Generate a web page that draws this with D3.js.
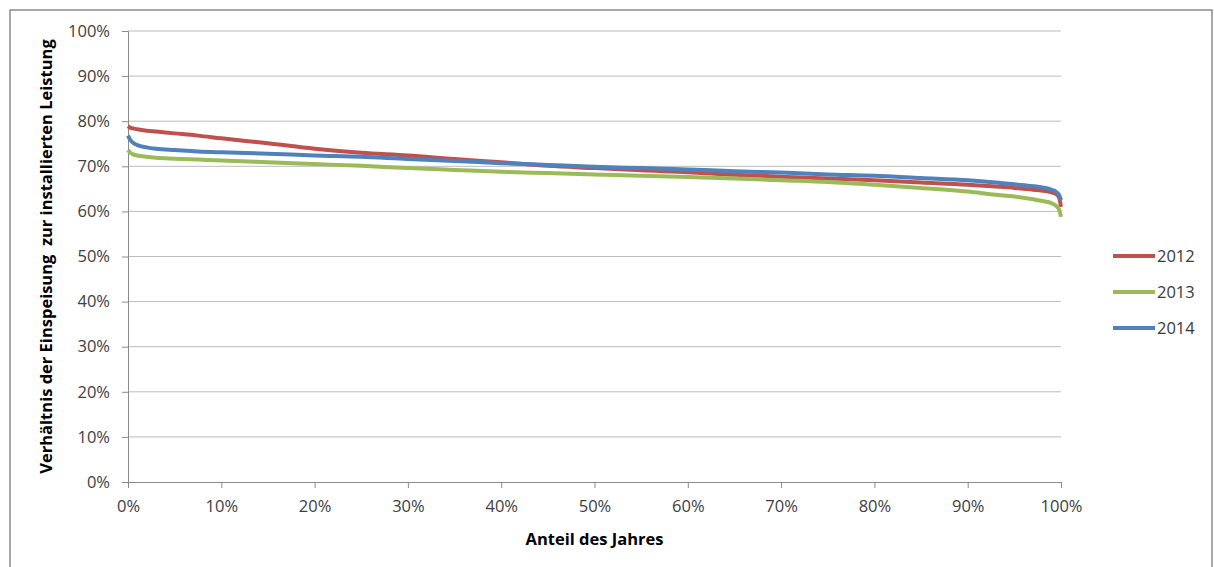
<!DOCTYPE html>
<html>
<head>
<meta charset="utf-8">
<script src="https://cdn.jsdelivr.net/npm/d3@7"></script>
<style>
  html, body { margin: 0; padding: 0; background: #fff; }
  svg { display: block; }
  text { font-family: "Open Sans", "Liberation Sans", sans-serif; fill: #404040; }
</style>
</head>
<body>
<svg id="chart" width="1214" height="567"></svg>
<script>
// Share of the year (%) at which each duration-curve value is sampled
const shareOfYear = [0, 0.2, 0.5, 1, 2, 3, 5, 7.5, 10, 15, 20, 25, 30, 35, 40, 45, 50, 55, 60, 65, 70, 75, 80, 85, 90, 93, 95, 97, 98, 99, 99.5, 99.8, 100];

// Feed-in relative to installed capacity (%)
const ratio2012 = [78.9, 78.6, 78.4, 78.2, 77.9, 77.7, 77.3, 76.8, 76.2, 75.1, 73.9, 73.0, 72.4, 71.6, 70.9, 70.1, 69.6, 69.1, 68.7, 68.1, 67.7, 67.3, 66.9, 66.4, 65.9, 65.5, 65.2, 64.8, 64.6, 64.2, 63.8, 63.0, 61.0];
const ratio2013 = [73.6, 73.1, 72.7, 72.4, 72.1, 71.9, 71.7, 71.5, 71.3, 70.9, 70.5, 70.1, 69.6, 69.2, 68.8, 68.5, 68.2, 67.9, 67.6, 67.3, 66.9, 66.5, 65.9, 65.2, 64.4, 63.7, 63.3, 62.7, 62.3, 61.8, 61.2, 60.4, 58.8];
const ratio2014 = [76.8, 76.0, 75.3, 74.7, 74.2, 73.9, 73.6, 73.3, 73.1, 72.8, 72.4, 72.1, 71.6, 71.2, 70.7, 70.3, 69.9, 69.6, 69.3, 68.9, 68.6, 68.2, 67.9, 67.4, 66.9, 66.4, 66.0, 65.6, 65.3, 64.8, 64.3, 63.6, 62.5];

const seriesNames = ["2012", "2013", "2014"];
const seriesColors = ["#C0504D", "#9BBB59", "#4F81BD"];
const xTicks = [0, 10, 20, 30, 40, 50, 60, 70, 80, 90, 100];
const yTicks = [0, 10, 20, 30, 40, 50, 60, 70, 80, 90, 100];

const yTitle = "Verhältnis der Einspeisung  zur installierten Leistung";
const xTitle = "Anteil des Jahres";

const series = [ratio2012, ratio2013, ratio2014].map((vals, i) => ({
  name: seriesNames[i],
  color: seriesColors[i],
  points: shareOfYear.map((s, j) => ({ x: s, y: vals[j] }))
}));

const svg = d3.select("#chart");

// Outer chart frame
svg.append("rect")
  .attr("x", 10).attr("y", 10)
  .attr("width", 1202).attr("height", 620)
  .attr("fill", "none")
  .attr("stroke", "#8c8c8c")
  .attr("stroke-width", 1.5);

const plot = { left: 128, right: 1061, top: 31, bottom: 482 };

const x = d3.scaleLinear().domain([0, 100]).range([plot.left, plot.right]);
const y = d3.scaleLinear().domain([0, 100]).range([plot.bottom, plot.top]);

const pct = d => d + "%";

// Horizontal gridlines
svg.append("g")
  .selectAll("line")
  .data(yTicks.filter(d => d > 0))
  .join("line")
  .attr("x1", plot.left).attr("x2", plot.right)
  .attr("y1", d => y(d)).attr("y2", d => y(d))
  .attr("stroke", "#bcbcbc")
  .attr("stroke-width", 1);

// Y axis
const yAxis = svg.append("g")
  .attr("transform", `translate(${plot.left},0)`)
  .call(d3.axisLeft(y).tickValues(yTicks).tickFormat(pct).tickSize(6).tickPadding(12));
yAxis.select(".domain").attr("stroke", "#8a8a8a");
yAxis.selectAll(".tick line").attr("stroke", "#8a8a8a");
yAxis.selectAll(".tick text")
  .attr("font-size", 16.5)
  .attr("font-family", "'Open Sans', 'Liberation Sans', sans-serif")
  .attr("fill", "#3a3a3a");

// X axis
const xAxis = svg.append("g")
  .attr("transform", `translate(0,${plot.bottom})`)
  .call(d3.axisBottom(x).tickValues(xTicks).tickFormat(pct).tickSize(6).tickPadding(12));
xAxis.select(".domain").attr("stroke", "#8a8a8a");
xAxis.selectAll(".tick line").attr("stroke", "#8a8a8a");
xAxis.selectAll(".tick text")
  .attr("font-size", 16.5)
  .attr("font-family", "'Open Sans', 'Liberation Sans', sans-serif")
  .attr("fill", "#3a3a3a");

// Duration curves
const line = d3.line()
  .x(d => x(d.x))
  .y(d => y(d.y))
  .curve(d3.curveMonotoneX);

svg.append("g")
  .selectAll("path")
  .data(series)
  .join("path")
  .attr("d", d => line(d.points))
  .attr("fill", "none")
  .attr("stroke", d => d.color)
  .attr("stroke-width", 4)
  .attr("stroke-linejoin", "round");

// Axis titles
svg.append("text")
  .attr("transform", `translate(52,${(plot.top + plot.bottom) / 2}) rotate(-90)`)
  .attr("text-anchor", "middle")
  .attr("font-size", 16.5)
  .attr("font-weight", "bold")
  .style("fill", "#000")
  .style("white-space", "pre")
  .text(yTitle);

svg.append("text")
  .attr("x", (plot.left + plot.right) / 2)
  .attr("y", 545)
  .attr("text-anchor", "middle")
  .attr("font-size", 16.5)
  .attr("font-weight", "bold")
  .style("fill", "#000")
  .text(xTitle);

// Legend
const legend = svg.append("g")
  .selectAll("g")
  .data(series)
  .join("g")
  .attr("transform", (d, i) => `translate(1113,${256 + i * 36})`);

legend.append("line")
  .attr("x1", 0).attr("x2", 42)
  .attr("y1", 0).attr("y2", 0)
  .attr("stroke", d => d.color)
  .attr("stroke-width", 4);

legend.append("text")
  .attr("x", 44)
  .attr("y", 0)
  .attr("dy", "0.36em")
  .attr("font-size", 16.5)
  .style("fill", "#3a3a3a")
  .text(d => d.name);
</script>
</body>
</html>
